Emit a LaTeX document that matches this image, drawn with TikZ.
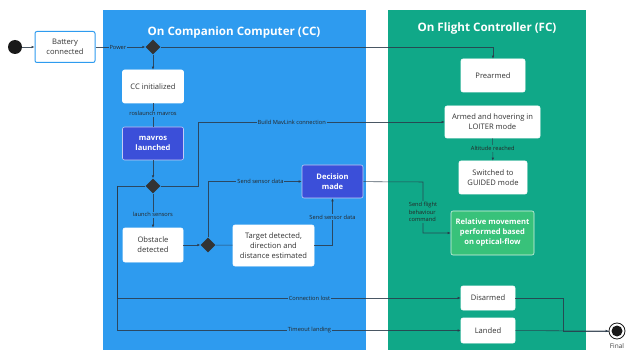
\documentclass[tikz,border=0pt]{standalone}
\usepackage{fontspec}
\setmainfont{Open Sans}
\usetikzlibrary{shapes.geometric,arrows.meta,calc}
\definecolor{ccblue}{HTML}{2E9BEF}
\definecolor{fcgreen}{HTML}{10A888}
\definecolor{indigo}{HTML}{3B4FD9}
\definecolor{mintg}{HTML}{38C27A}
\definecolor{diam}{HTML}{333333}
\definecolor{lin}{HTML}{2B3A4A}
\tikzset{
  x=1pt, y=-1pt,
  state/.style={draw=white, line width=0.6pt, fill=white, rounded corners=2pt, align=center, font=\fontsize{7.6}{10}\selectfont, text=black!80, inner sep=2pt},
  act/.style={state, fill=indigo, text=white, font=\fontsize{7.6}{10}\selectfont\bfseries, draw=white!70!indigo},
  rel/.style={state, fill=mintg, text=white, font=\fontsize{7.6}{10}\selectfont\bfseries, draw=white!80!mintg},
  dec/.style={diamond, fill=diam, inner sep=0pt, minimum size=15pt},
  conn/.style={draw=lin, draw opacity=0.85, line width=0.55pt},
  arr/.style={conn, -{Latex[length=3pt,width=2.6pt]}},
  lab/.style={font=\fontsize{5.7}{7.4}\selectfont, text=black!85, inner sep=1pt},
  ttl/.style={font=\fontsize{11.6}{13}\selectfont\bfseries, text=white},
}
\begin{document}
\begin{tikzpicture}
\useasboundingbox (0,0) rectangle (627,350);
\fill[white] (0,0) rectangle (627,350);
% panels
\fill[ccblue] (103,10) rectangle (366,350);
\fill[fcgreen] (388,10) rectangle (586,350);
\node[ttl] (cctitle) at (234,32) {On Companion Computer (CC)};
\node[ttl] (fctitle) at (487,28) {On Flight Controller (FC)};

% start / final
\node[circle, fill=black!90, minimum size=14pt, inner sep=0pt] (start) at (15,47) {};
\node[circle, draw=black!90, line width=0.8pt, fill=white, minimum size=16pt, inner sep=0pt] (final) at (617,331) {};
\node[circle, fill=black!90, minimum size=11pt, inner sep=0pt] (finalin) at (617,331) {};
\node[font=\fontsize{6.5}{8}\selectfont, text=black!75] (finallab) at (617,346) {Final};

% states
\node[state, draw=ccblue, line width=1pt, minimum width=60pt, minimum height=31pt] (battery) at (65,47) {Battery\\connected};
\node[dec] (d1) at (153,47) {};
\node[state, minimum width=61pt, minimum height=33pt] (ccinit) at (153,86.5) {CC initialized};
\node[act, minimum width=61pt, minimum height=33pt] (mavros) at (153,143.5) {mavros\\launched};
\node[dec] (d2) at (153,186) {};
\node[state, minimum width=60pt, minimum height=34pt] (obst) at (153,245) {Obstacle\\detected};
\node[dec] (d3) at (208,245) {};
\node[state, minimum width=81pt, minimum height=41pt] (target) at (273.5,245.5) {Target detected,\\direction and\\distance estimated};
\node[act, minimum width=61pt, minimum height=33pt] (decision) at (332.5,181.5) {Decision\\made};

\node[state, minimum width=64pt, minimum height=33pt] (prearmed) at (493,75.5) {Prearmed};
\node[state, minimum width=95pt, minimum height=32pt] (armed) at (492.5,122) {Armed and hovering in\\LOITER mode};
\node[state, minimum width=68pt, minimum height=33pt] (guided) at (493,177.5) {Switched to\\GUIDED mode};
\node[rel, minimum width=83pt, minimum height=44pt] (relmove) at (492.5,233) {Relative movement\\performed based\\on optical-flow};
\node[state, minimum width=54pt, minimum height=24pt] (disarmed) at (488,298) {Disarmed};
\node[state, minimum width=54pt, minimum height=25pt] (landed) at (488,330.5) {Landed};

% coordinates for bends
\coordinate (mavbend) at (198,186);
\coordinate (flbend) at (423,182);
\coordinate (leftbend) at (117,186);
\coordinate (finbend) at (563,298);

% connectors
\draw[arr] (start) -- (battery);
\draw[arr] (battery) -- node[lab, fill=ccblue, pos=0.45] (lpower) {Power} (d1);
\draw[arr] (d1) -| (prearmed);
\draw[arr] (d1) -- (ccinit);
\draw[conn] (ccinit) -- node[lab, fill=ccblue, pos=0.45] (lros) {roslaunch mavros} (mavros);
\draw[arr] (mavros) -- (d2);
\draw[arr] (d2) -- (mavbend) |- node[lab, fill=ccblue, pos=0.69] (lmav) {Build MavLink connection} (armed);
\draw[arr] (armed) -- node[lab, fill=fcgreen, pos=0.45] (lalt) {Altitude reached} (guided);
\draw[arr] (d2) -- node[lab, fill=ccblue, pos=0.62] (lls) {launch sensors} (obst);
\draw[arr] (obst) -- (d3);
\draw[conn] (d3) -- (target);
\draw[arr] (d3) |- node[lab, fill=ccblue, pos=0.78] (lsd1) {Send sensor data} (decision);
\draw[arr] (target.east) -| node[lab, fill=ccblue, pos=0.8] (lsd2) {Send sensor data} (decision.south);
\draw[arr] (decision) -- (flbend) |- node[lab, fill=fcgreen, pos=0.295, align=left] (lflight) {Send flight\\behaviour\\command} (relmove);
\draw[arr] (d2) -- (leftbend) |- node[lab, fill=ccblue, pos=0.78] (lconn) {Connection lost} (disarmed);
\draw[arr] (leftbend) |- node[lab, fill=ccblue, pos=0.78] (ltime) {Timeout landing} (landed);
\draw[conn] (disarmed) -- (finbend) |- (final);
\draw[arr] (landed) -- (final);
\end{tikzpicture}
\end{document}
